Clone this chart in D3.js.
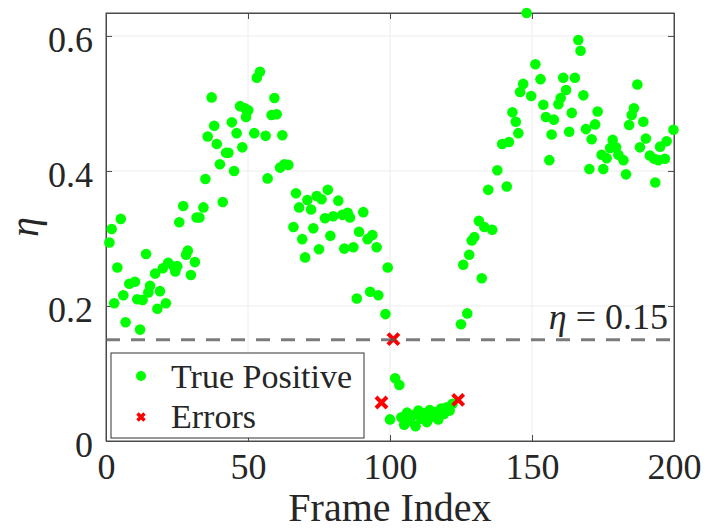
<!DOCTYPE html>
<html>
<head>
<meta charset="utf-8">
<script src="https://cdn.jsdelivr.net/npm/d3@7"></script>
<style>
  body { margin: 0; background: #fff; }
  text { font-family: "Liberation Serif", "Times New Roman", serif; fill: #262626; }
</style>
</head>
<body>
<svg id="chart" width="707" height="529"></svg>
<script>
// true positive points: frame index and eta
const tpFrame = [
  1.2, 2.0, 2.9, 4.0, 5.2, 6.1, 6.9, 8.2, 10.2, 11.0, 12.0, 12.9, 14.1, 14.9, 15.5, 17.3, 18.1, 19.0, 20.0, 21.1,
  21.9, 23.9, 24.4, 25.1, 25.8, 27.2, 28.2, 28.8, 29.9, 31.3, 31.9, 32.9, 34.3, 35.0, 35.8, 37.2, 38.1, 39.0, 40.1, 41.1,
  42.3, 43.1, 44.3, 45.1, 46.0, 47.2, 48.0, 48.9, 49.3, 50.1, 52.2, 53.1, 54.2, 56.2, 56.9, 58.3, 59.3, 60.1, 61.3, 62.1,
  62.8, 64.2, 66.0, 66.9, 68.0, 69.1, 70.1, 70.9, 72.2, 73.0, 74.2, 75.0, 75.9, 77.1, 78.1, 79.0, 80.0, 81.8, 83.2, 83.9,
  85.1, 85.9, 87.1, 88.3, 89.1, 90.6, 92.1, 93.0, 93.8, 95.3, 95.9, 98.4, 99.2,
  100.0, 101.8, 103.3, 104, 105, 106, 107, 108, 109, 110, 111, 112, 113, 114, 115, 116, 117, 118, 119, 120, 121, 122,
  125.0, 125.8, 127.2, 127.9, 128.8, 129.7, 131.3, 132.3, 133.2, 134.6, 136.0, 137.8, 139.5, 141.1, 141.9, 143.1, 144.3,
  145.2, 145.8, 146.9, 148.1, 149.7, 151.2, 153.0, 154.0, 154.9, 156.1, 156.9, 157.7, 159.3, 160.1, 161.0, 162.0, 163.1,
  164.0, 165.1, 166.3, 167.1, 168.1, 169.0, 170.2, 171.0, 172.2, 173.1, 174.5, 175.1, 176.3, 177.5, 178.4, 179.6, 180.4,
  182.2, 183.1, 184.2, 185.1, 185.9, 187.1, 188.0, 189.2, 190.1, 191.5, 193.0, 193.4, 194.5, 195.1, 196.8, 197.4, 199.8
];
const tpEta = [
  0.294, 0.314, 0.204, 0.257, 0.329, 0.216, 0.176, 0.233, 0.236, 0.210, 0.165, 0.209, 0.277, 0.220, 0.230, 0.248, 0.196, 0.222, 0.256, 0.204,
  0.264, 0.258, 0.251, 0.259, 0.324, 0.348, 0.276, 0.282, 0.246, 0.265, 0.331, 0.331, 0.346, 0.388, 0.451, 0.509, 0.467, 0.440, 0.410, 0.354,
  0.427, 0.427, 0.472, 0.400, 0.456, 0.496, 0.435, 0.493, 0.480, 0.490, 0.456, 0.538, 0.547, 0.452, 0.389, 0.483, 0.508, 0.484, 0.405, 0.453,
  0.410, 0.409, 0.317, 0.367, 0.346, 0.299, 0.272, 0.357, 0.343, 0.315, 0.363, 0.284, 0.358, 0.330, 0.372, 0.304, 0.333, 0.356, 0.335, 0.285,
  0.338, 0.331, 0.287, 0.211, 0.310, 0.339, 0.299, 0.221, 0.305, 0.287, 0.216, 0.188, 0.257,
  0.032, 0.093, 0.083, 0.035, 0.024, 0.042, 0.030, 0.038, 0.022, 0.045, 0.033, 0.041, 0.028, 0.046, 0.036, 0.043, 0.032, 0.048, 0.040, 0.050, 0.045, 0.055,
  0.173, 0.261, 0.189, 0.276, 0.297, 0.302, 0.326, 0.241, 0.317, 0.372, 0.313, 0.401, 0.440, 0.377, 0.443, 0.487, 0.473,
  0.456, 0.517, 0.529, 0.634, 0.511, 0.558, 0.536, 0.498, 0.480, 0.416, 0.454, 0.476, 0.499, 0.508, 0.538, 0.520, 0.458,
  0.486, 0.538, 0.594, 0.578, 0.512, 0.462, 0.403, 0.447, 0.469, 0.488, 0.424, 0.403, 0.419, 0.434, 0.446, 0.435, 0.424,
  0.416, 0.395, 0.468, 0.483, 0.493, 0.528, 0.435, 0.473, 0.448, 0.423, 0.418, 0.383, 0.416, 0.436, 0.418, 0.444, 0.461
];

// misclassified frames
const errFrame = [97.0, 101.2, 124.0];
const errEta = [0.057, 0.151, 0.061];

const threshold = 0.15;
const xTicks = [0, 50, 100, 150, 200];
const yTicks = [0, 0.2, 0.4, 0.6];
const yTickLabels = ["0", "0.2", "0.4", "0.6"];

const svg = d3.select("#chart");
const width = 707;
const height = 529;
const margin = { top: 13, right: 33, bottom: 88, left: 106 };

const x = d3.scaleLinear()
    .domain([0, 200])
    .range([margin.left, width - margin.right]);

const y = d3.scaleLinear()
    .domain([0, d3.max(tpEta)])
    .range([height - margin.bottom, margin.top]);

const tp = tpFrame.map((f, i) => ({ f: f, v: tpEta[i] }));
const err = errFrame.map((f, i) => ({ f: f, v: errEta[i] }));

// grid
svg.append("g")
    .selectAll("line")
    .data(xTicks.slice(1, -1))
    .join("line")
    .attr("x1", d => x(d)).attr("x2", d => x(d))
    .attr("y1", y.range()[1]).attr("y2", y.range()[0])
    .attr("stroke", "#ececec");

svg.append("g")
    .selectAll("line")
    .data(yTicks.slice(1))
    .join("line")
    .attr("x1", x.range()[0]).attr("x2", x.range()[1])
    .attr("y1", d => y(d)).attr("y2", d => y(d))
    .attr("stroke", "#ececec");

// axes, ticks pointing inwards on all four sides
const xAxis = svg.append("g")
    .attr("transform", `translate(0,${y.range()[0]})`)
    .call(d3.axisBottom(x).tickValues(xTicks).tickSizeInner(-6).tickSizeOuter(0).tickPadding(12));
xAxis.selectAll("text").style("font-size", "36px");

const yAxis = svg.append("g")
    .attr("transform", `translate(${x.range()[0]},0)`)
    .call(d3.axisLeft(y).tickValues(yTicks).tickFormat((d, i) => yTickLabels[i])
        .tickSizeInner(-6).tickSizeOuter(0).tickPadding(13));
yAxis.selectAll("text").style("font-size", "36px").attr("dy", "0.42em");

svg.append("g")
    .attr("transform", `translate(0,${y.range()[1]})`)
    .call(d3.axisTop(x).tickValues(xTicks).tickSizeInner(-6).tickSizeOuter(0).tickFormat(""));

svg.append("g")
    .attr("transform", `translate(${x.range()[1]},0)`)
    .call(d3.axisRight(y).tickValues(yTicks).tickSizeInner(-6).tickSizeOuter(0).tickFormat(""));

svg.selectAll(".domain, .tick line").attr("stroke", "#4a4a4a");

// frame of the box
svg.append("rect")
    .attr("x", x.range()[0]).attr("y", y.range()[1])
    .attr("width", x.range()[1] - x.range()[0])
    .attr("height", y.range()[0] - y.range()[1])
    .attr("fill", "none").attr("stroke", "#4a4a4a");

// true positives
svg.append("g")
    .selectAll("circle")
    .data(tp)
    .join("circle")
    .attr("cx", d => x(d.f))
    .attr("cy", d => y(d.v))
    .attr("r", 5.3)
    .attr("fill", "#00ff00");

// errors
const xMark = s => `M${-s},${-s}L${s},${s}M${-s},${s}L${s},${-s}`;
svg.append("g")
    .selectAll("path")
    .data(err)
    .join("path")
    .attr("transform", d => `translate(${x(d.f)},${y(d.v)})`)
    .attr("d", xMark(5.5))
    .attr("stroke", "#ff0000")
    .attr("stroke-width", 4)
    .attr("fill", "none");

// threshold line
svg.append("line")
    .attr("x1", x.range()[0]).attr("x2", x.range()[1])
    .attr("y1", y(threshold)).attr("y2", y(threshold))
    .attr("stroke", "#5a5a5a")
    .attr("stroke-opacity", 0.8)
    .attr("stroke-width", 3)
    .attr("stroke-dasharray", "14,11");

const thr = svg.append("text")
    .attr("x", 668)
    .attr("y", y(threshold) - 11)
    .attr("text-anchor", "end")
    .style("font-size", "36px");
thr.append("tspan").style("font-style", "italic").text("η");
thr.append("tspan").text(" = 0.15");

// legend
const legend = svg.append("g");
legend.append("rect")
    .attr("x", 111).attr("y", 353)
    .attr("width", 253).attr("height", 85)
    .attr("fill", "#fff")
    .attr("stroke", "#333");
legend.append("circle")
    .attr("cx", 141).attr("cy", 376).attr("r", 5)
    .attr("fill", "#00ff00");
legend.append("path")
    .attr("transform", "translate(141,417)")
    .attr("d", xMark(3.5))
    .attr("stroke", "#ff0000")
    .attr("stroke-width", 3.5);
legend.append("text")
    .attr("x", 171).attr("y", 388)
    .style("font-size", "34px")
    .text("True Positive");
legend.append("text")
    .attr("x", 171).attr("y", 428)
    .style("font-size", "34px")
    .text("Errors");

// axis labels
svg.append("text")
    .attr("text-anchor", "middle")
    .attr("x", (x.range()[0] + x.range()[1]) / 2)
    .attr("y", 521)
    .style("font-size", "40px")
    .text("Frame Index");

svg.append("text")
    .attr("text-anchor", "middle")
    .attr("transform", "rotate(-90)")
    .attr("x", -(y.range()[0] + y.range()[1]) / 2)
    .attr("y", 38)
    .style("font-size", "40px")
    .style("font-style", "italic")
    .text("η");
</script>
</body>
</html>
